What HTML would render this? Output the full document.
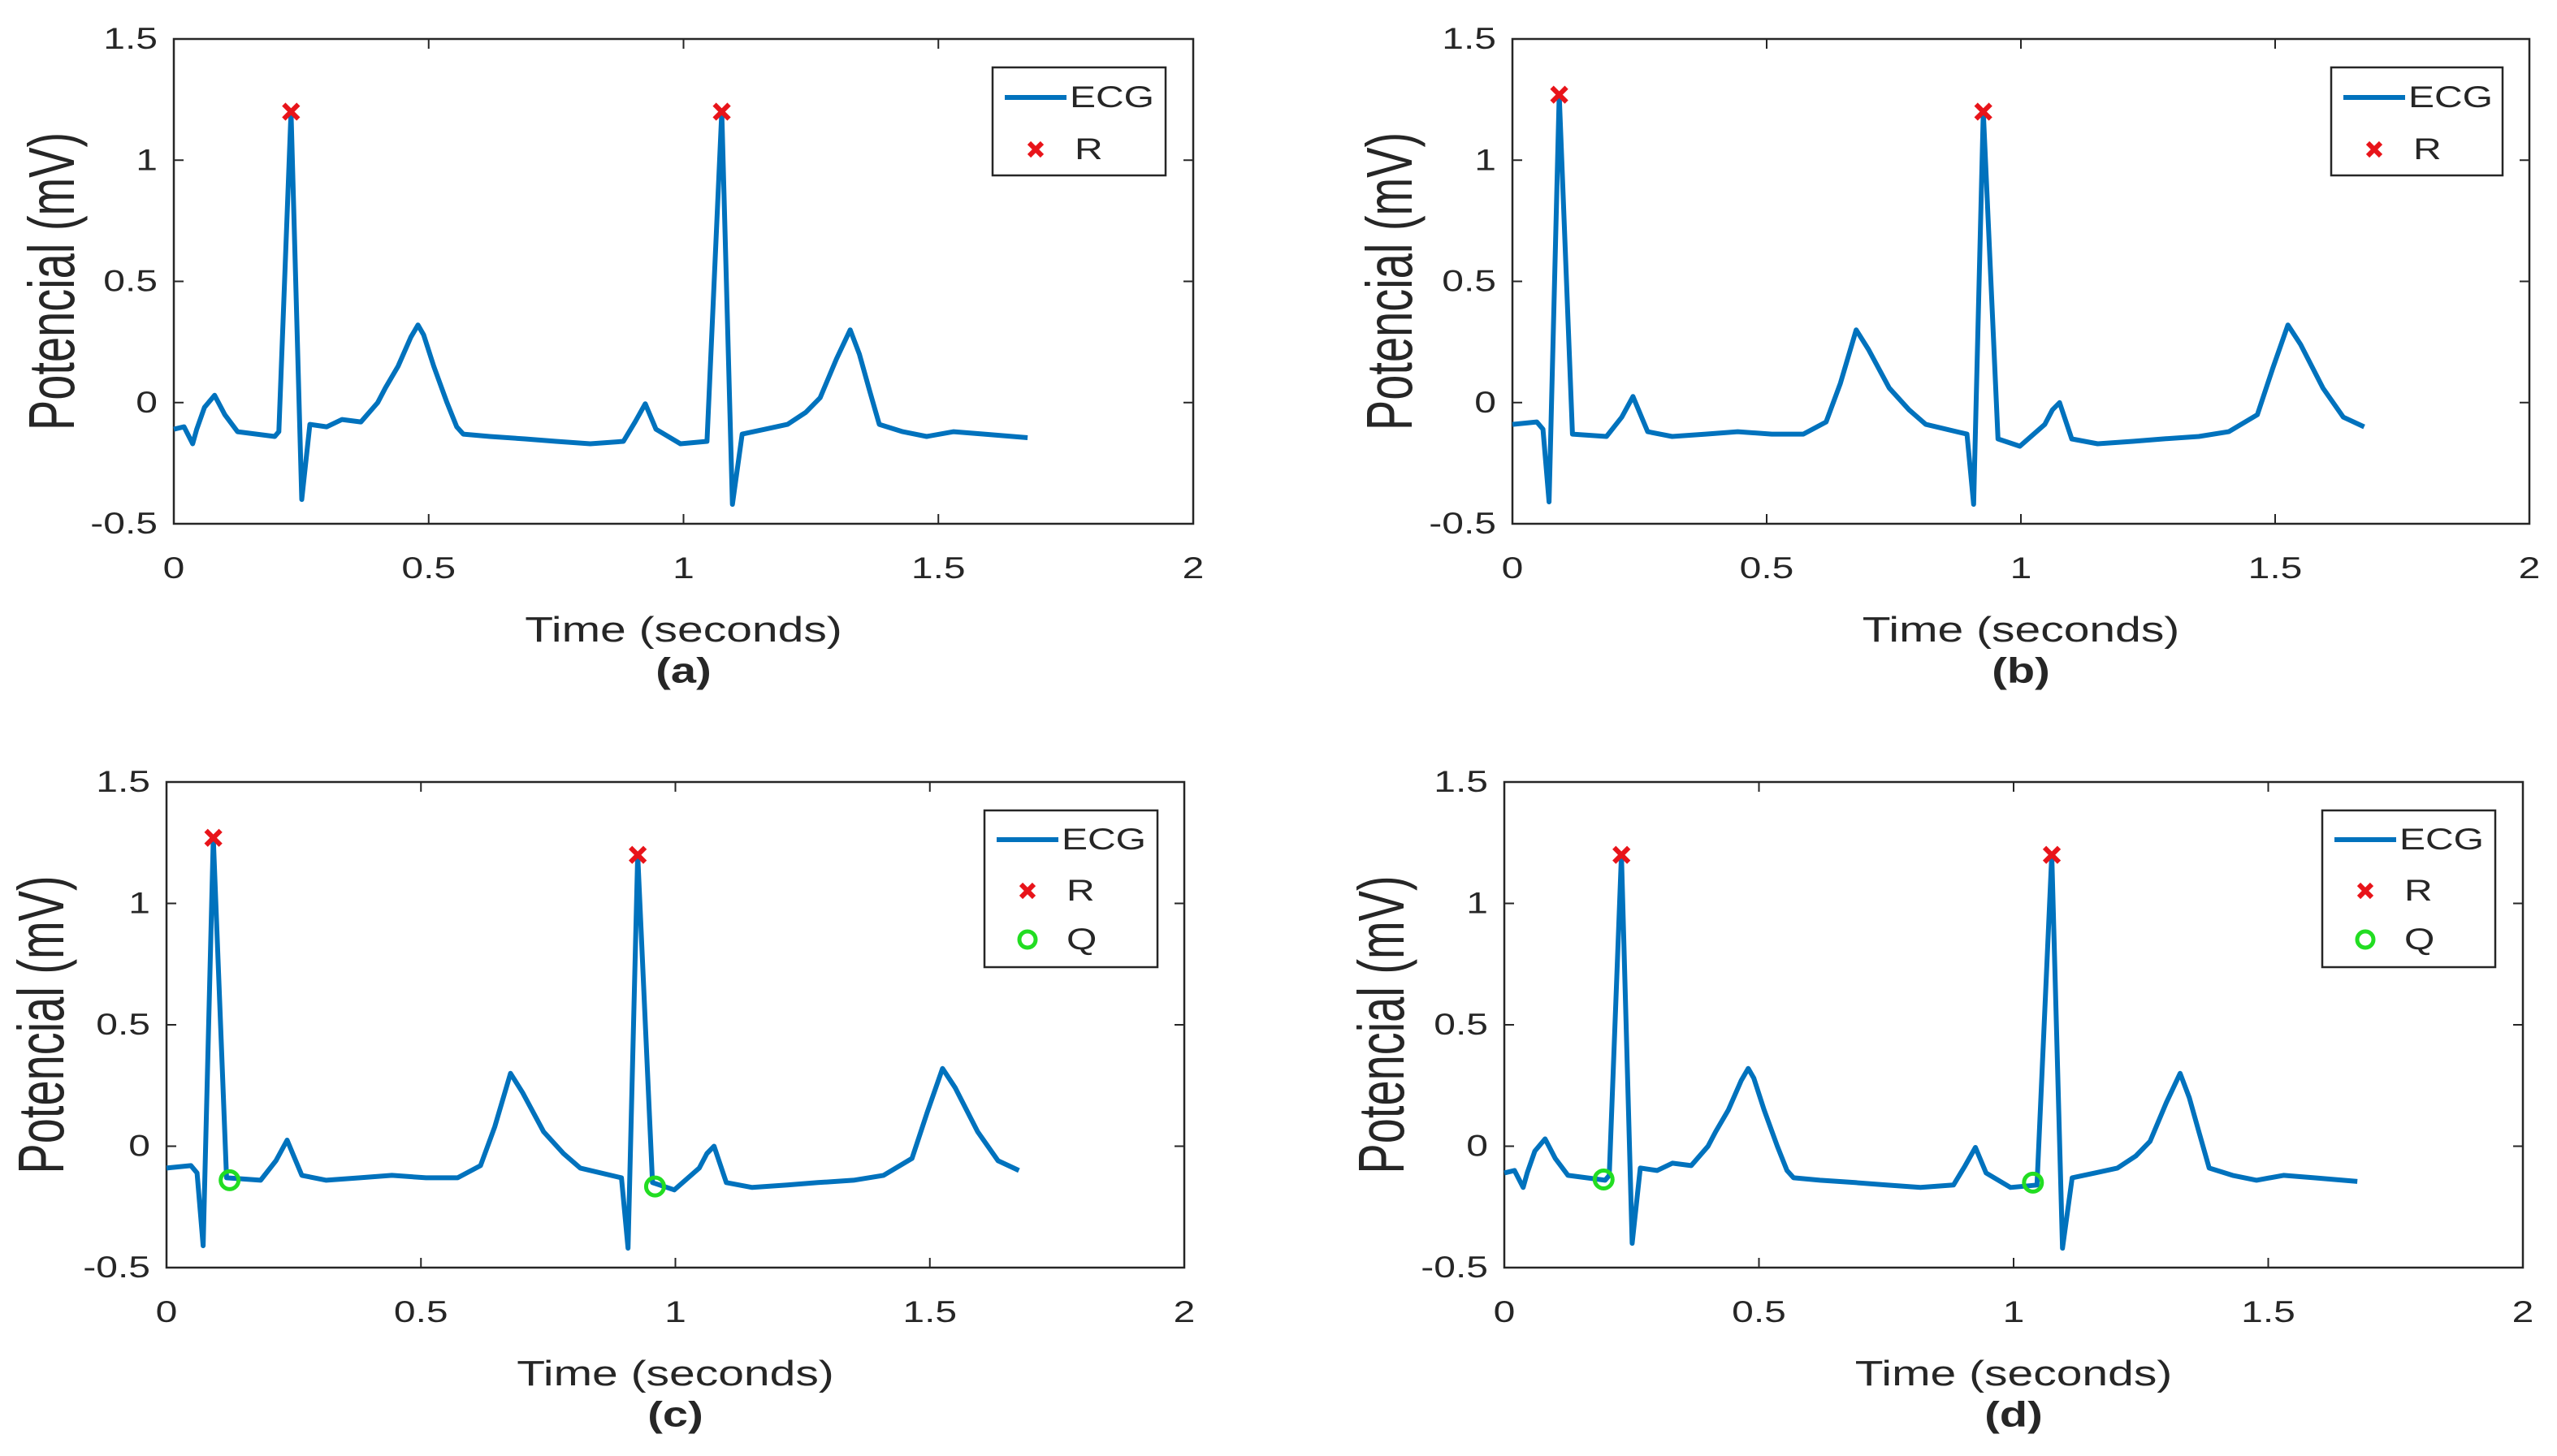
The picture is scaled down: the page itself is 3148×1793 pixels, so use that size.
<!DOCTYPE html>
<html><head><meta charset="utf-8"><style>html,body{margin:0;padding:0;background:#fff}svg{display:block}</style></head>
<body>
<svg id="fig" xmlns="http://www.w3.org/2000/svg" width="3148" height="1793" viewBox="0 0 3148 1793" font-family="'Liberation Sans', sans-serif"></svg>
<script>
// ECG signal A (panels a, d)
const timeA = [0,0.02,0.037,0.045,0.06,0.08,0.10,0.125,0.198,0.206,0.23,0.251,0.267,0.30,0.33,0.367,0.40,0.415,0.44,0.465,0.479,0.49,0.51,0.536,0.555,0.568,0.62,0.689,0.75,0.817,0.882,0.905,0.925,0.946,0.994,1.046,1.075,1.096,1.115,1.16,1.204,1.24,1.268,1.30,1.327,1.345,1.365,1.384,1.43,1.477,1.53,1.59,1.675];
const valueA = [-0.11,-0.10,-0.17,-0.11,-0.02,0.03,-0.05,-0.12,-0.14,-0.12,1.2,-0.40,-0.09,-0.10,-0.07,-0.08,0.0,0.06,0.15,0.27,0.32,0.28,0.15,0,-0.10,-0.13,-0.14,-0.15,-0.16,-0.17,-0.16,-0.08,-0.005,-0.11,-0.17,-0.16,1.2,-0.42,-0.13,-0.11,-0.09,-0.04,0.02,0.18,0.30,0.20,0.05,-0.09,-0.12,-0.14,-0.12,-0.13,-0.145];
// ECG signal B (panels b, c)
const timeB = [0,0.048,0.06,0.072,0.092,0.118,0.185,0.215,0.237,0.25,0.266,0.314,0.38,0.443,0.51,0.572,0.617,0.645,0.676,0.70,0.741,0.78,0.813,0.894,0.907,0.926,0.955,0.998,1.047,1.062,1.076,1.10,1.151,1.22,1.28,1.35,1.409,1.465,1.495,1.525,1.55,1.594,1.634,1.675];
const valueB = [-0.09,-0.08,-0.11,-0.41,1.27,-0.13,-0.14,-0.06,0.025,-0.04,-0.12,-0.14,-0.13,-0.12,-0.13,-0.13,-0.08,0.08,0.30,0.22,0.06,-0.03,-0.09,-0.13,-0.42,1.2,-0.15,-0.18,-0.09,-0.03,0,-0.15,-0.17,-0.16,-0.15,-0.14,-0.12,-0.05,0.14,0.32,0.24,0.06,-0.06,-0.10];
// R peaks
const rTimeA = [0.23,1.075];
const rValA = [1.2,1.2];
const rTimeB = [0.092,0.926];
const rValB = [1.27,1.2];
// Q points
const qTimeC = [0.124,0.96];
const qValC = [-0.14,-0.166];
const qTimeD = [0.195,1.038];
const qValD = [-0.137,-0.15];
// ticks
const xTicks = [0,0.5,1,1.5,2];
const xTickLabels = ["0","0.5","1","1.5","2"];
const yTicks = [-0.5,0,0.5,1,1.5];
const yTickLabels = ["-0.5","0","0.5","1","1.5"];

const NS = "http://www.w3.org/2000/svg";
const svg = document.getElementById('fig');
function mk(tag, attrs, parent){
  const e = document.createElementNS(NS, tag);
  for (const k in attrs) e.setAttribute(k, attrs[k]);
  (parent||svg).appendChild(e);
  return e;
}
const SY = 0.77;
function txt(parent, x, y, s, size, anchor, weight, rot){
  const t = mk('text', {'font-size':size, 'text-anchor':anchor, 'dominant-baseline':'central', 'font-weight':weight||'normal', fill:'#262626',
    transform: rot ? `translate(${x},${y}) rotate(-90) scale(${rot},1)` : `translate(${x},${y}) scale(1,${SY})`}, parent);
  t.textContent = s;
  return t;
}

const panels = [
  {id:'a', L:214, R:1469, T:48, B:645, t:timeA, v:valueA, rt:rTimeA, rv:rValA, qt:null, qv:null, leg:[1222,83,1435,216], ylx:63},
  {id:'b', L:1862, R:3114, T:48, B:645, t:timeB, v:valueB, rt:rTimeB, rv:rValB, qt:null, qv:null, leg:[2870,83,3081,216], ylx:1710},
  {id:'c', L:205, R:1458, T:963, B:1561, t:timeB, v:valueB, rt:rTimeB, rv:rValB, qt:qTimeC, qv:qValC, leg:[1212,998,1425,1191], ylx:50},
  {id:'d', L:1852, R:3106, T:963, B:1561, t:timeA, v:valueA, rt:rTimeA, rv:rValA, qt:qTimeD, qv:qValD, leg:[2859,998,3072,1191], ylx:1700}
];

panels.forEach(p => {
  const g = mk('g', {});
  
  
  const xs = t => p.L + (t - 0) / 2 * (p.R - p.L);
  const ys = v => p.B - (v + 0.5) / 2 * (p.B - p.T);

  const box = mk('rect', {x:p.L, y:p.T, width:p.R-p.L, height:p.B-p.T, fill:'none', stroke:'#262626', 'stroke-width':2.5}, g);
  
  

  xTicks.forEach((tv, i) => {
    const x = xs(tv);
    mk('line', {x1:x, y1:p.B, x2:x, y2:p.B-12, stroke:'#262626', 'stroke-width':2}, g);
    mk('line', {x1:x, y1:p.T, x2:x, y2:p.T+12, stroke:'#262626', 'stroke-width':2}, g);
    const l = txt(g, x, p.B+55, xTickLabels[i], 48, 'middle');
    
    
  });
  yTicks.forEach((yv, i) => {
    const y = ys(yv);
    mk('line', {x1:p.L, y1:y, x2:p.L+12, y2:y, stroke:'#262626', 'stroke-width':2}, g);
    mk('line', {x1:p.R, y1:y, x2:p.R-12, y2:y, stroke:'#262626', 'stroke-width':2}, g);
    const l = txt(g, p.L-20, y, yTickLabels[i], 48, 'end');
    
    
  });

  let d = '';
  p.t.forEach((tv, i) => { d += (i ? 'L' : 'M') + xs(tv).toFixed(1) + ',' + ys(p.v[i]).toFixed(1); });
  const path = mk('path', {d:d, fill:'none', stroke:'#0072BD', 'stroke-width':6, 'stroke-linejoin':'round'}, g);
  
  

  p.rt.forEach((tv, i) => {
    const x = xs(tv), y = ys(p.rv[i]);
    const m = mk('path', {d:`M${x-9},${y-9}L${x+9},${y+9}M${x-9},${y+9}L${x+9},${y-9}`, stroke:'#e8141a', 'stroke-width':6}, g);
    
    
  });
  if (p.qt) p.qt.forEach((tv, i) => {
    const c = mk('circle', {cx:xs(tv), cy:ys(p.qv[i]), r:11, fill:'none', stroke:'#22dd22', 'stroke-width':5}, g);
    
    
  });

  const [lx1, ly1, lx2, ly2] = p.leg;
  const lg = mk('g', {}, g);
  
  
  mk('rect', {x:lx1, y:ly1, width:lx2-lx1, height:ly2-ly1, fill:'#fff', stroke:'#262626', 'stroke-width':2.5}, lg);
  const rows = p.qt ? [36, 99, 159] : [37, 101];
  const l1 = mk('line', {x1:lx1+15, y1:ly1+rows[0], x2:lx1+91, y2:ly1+rows[0], stroke:'#0072BD', 'stroke-width':6}, lg);
  
  
  txt(lg, lx1+95, ly1+rows[0], 'ECG', 48, 'start');
  const mx = lx1+53, my = ly1+rows[1];
  const rm = mk('path', {d:`M${mx-8},${my-8}L${mx+8},${my+8}M${mx-8},${my+8}L${mx+8},${my-8}`, stroke:'#e8141a', 'stroke-width':6}, lg);
  
  
  txt(lg, lx1+101, my, 'R', 48, 'start');
  if (p.qt) {
    const qm = mk('circle', {cx:mx, cy:ly1+rows[2], r:10, fill:'none', stroke:'#22dd22', 'stroke-width':5}, lg);
    
    
    txt(lg, lx1+101, ly1+rows[2], 'Q', 48, 'start');
  }

  const cx = (p.L + p.R) / 2;
  const xl = txt(g, cx, p.B+130, 'Time (seconds)', 57, 'middle');
  
  
  const yl = txt(g, p.ylx, (p.T+p.B)/2, 'Potencial (mV)', 80, 'middle', 'normal', 0.7);
  
  
  const sl = txt(g, cx, p.B+181, '(' + p.id + ')', 56, 'middle', 'bold');
  
  
});
</script>
</body></html>
